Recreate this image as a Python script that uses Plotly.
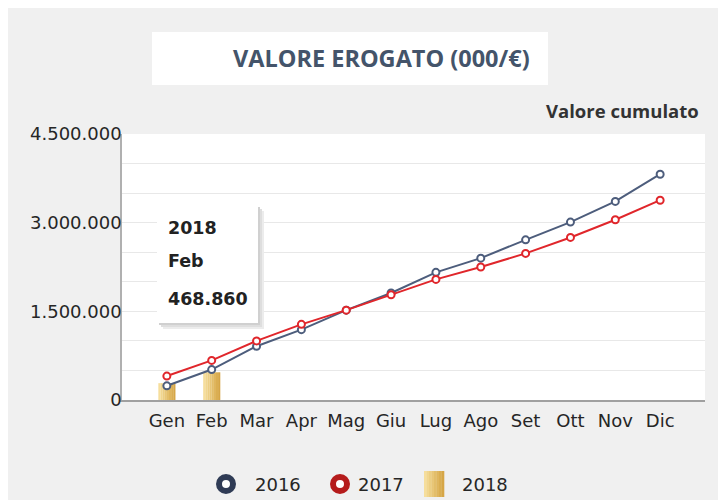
import plotly.graph_objects as go

months = ["Gen", "Feb", "Mar", "Apr", "Mag", "Giu", "Lug", "Ago", "Set", "Ott", "Nov", "Dic"]
v2016 = [240000, 515000, 910000, 1190000, 1520000, 1810000, 2160000, 2400000, 2710000, 3010000, 3360000, 3820000]
v2017 = [405000, 670000, 1000000, 1280000, 1520000, 1780000, 2040000, 2250000, 2480000, 2750000, 3050000, 3380000]
v2018 = [285000, 468860, None, None, None, None, None, None, None, None, None, None]
y_ticks = [0, 1500000, 3000000, 4500000]
y_tick_text = ["0", "1.500.000", "3.000.000", "4.500.000"]
legend_names = ["2016", "2017", "2018"]

FONT = "Open Sans"
FONT2 = "DejaVu Sans"
BLUE = "#4d5d7c"
RED = "#e0262b"
GOLD_L = (246, 222, 156)
GOLD_D = (214, 166, 70)

# page body has an 8px margin: figure is drawn at (8, 8)
OFF = 8
W, H = 726 - OFF, 500 - OFF
L, R, T, B = 122 - OFF, 21, 134 - OFF, 100
pw, ph = W - L - R, H - T - B


def px(x):  # screen x -> paper x
    return (x - 122) / pw


def py(y):  # screen y -> paper y
    return (400 - y) / ph


fig = go.Figure()

# 2018 bars drawn as vertical stripes to imitate the gold gradient
BW = 0.38
N = 8
for i in range(N):
    t = i / (N - 1)
    c = tuple(int(GOLD_L[k] + (GOLD_D[k] - GOLD_L[k]) * t) for k in range(3))
    fig.add_trace(go.Bar(
        x=list(range(12)), y=v2018, name="2018",
        width=BW / N + 0.002, offset=-BW / 2 + i * BW / N,
        marker=dict(color="rgb(%d,%d,%d)" % c, line=dict(width=0)),
        showlegend=False, hoverinfo="skip" if i else None,
    ))

fig.add_trace(go.Scatter(
    x=list(range(12)), y=v2016, name="2016", mode="lines+markers",
    line=dict(color=BLUE, width=2),
    marker=dict(symbol="circle", size=7, color="white", line=dict(color=BLUE, width=2)),
    showlegend=False,
))
fig.add_trace(go.Scatter(
    x=list(range(12)), y=v2017, name="2017", mode="lines+markers",
    line=dict(color=RED, width=2),
    marker=dict(symbol="circle", size=7, color="white", line=dict(color=RED, width=2)),
    showlegend=False,
))

# manual legend
for cx, col in [(226, "#2f3b55"), (340, "#b51c1c")]:
    fig.add_shape(type="circle", xref="paper", yref="paper",
                  x0=px(cx - 7), x1=px(cx + 7), y0=py(484 + 7), y1=py(484 - 7),
                  fillcolor="white", line=dict(color=col, width=6))
for i in range(N):
    t = i / (N - 1)
    c = tuple(int(GOLD_L[k] + (GOLD_D[k] - GOLD_L[k]) * t) for k in range(3))
    fig.add_shape(type="rect", xref="paper", yref="paper",
                  x0=px(424 + i * 20 / N), x1=px(424 + (i + 1) * 20 / N + 0.3),
                  y0=py(497), y1=py(471),
                  fillcolor="rgb(%d,%d,%d)" % c, line=dict(width=0))
for name, xx in zip(legend_names, [253, 356, 460]):
    fig.add_annotation(xref="paper", yref="paper", x=px(xx), y=py(484),
                       text=name, showarrow=False, xanchor="left", yanchor="middle",
                       font=dict(family=FONT2, size=18, color="#262626"))

# title box
fig.add_shape(type="rect", xref="paper", yref="paper",
              x0=px(152), x1=px(548), y0=py(85), y1=py(32),
              fillcolor="white", line=dict(width=0), layer="below")
fig.add_annotation(xref="paper", yref="paper", x=px(381), y=py(58),
                   text="<b>VALORE EROGATO (000/€)</b>", showarrow=False,
                   xanchor="center", yanchor="middle",
                   font=dict(family=FONT, size=23.5, color="#44546a"))
fig.add_annotation(xref="paper", yref="paper", x=px(701), y=py(110),
                   text="<b>Valore cumulato</b>", showarrow=False,
                   xanchor="right", yanchor="middle",
                   font=dict(family=FONT, size=18.5, color="#333333"))

# tooltip box with soft shadow
for off, col in [(6, "#ececec"), (4, "#dedede"), (2, "#d0d0d0")]:
    fig.add_shape(type="rect", xref="paper", yref="paper",
                  x0=px(157 + off), x1=px(258 + off), y0=py(323 + off), y1=py(205 + off),
                  fillcolor=col, line=dict(width=0))
fig.add_shape(type="rect", xref="paper", yref="paper",
              x0=px(157), x1=px(258), y0=py(323), y1=py(205),
              fillcolor="white", line=dict(width=0))
for txt, yy in [("2018", 228), ("Feb", 261), ("468.860", 299)]:
    fig.add_annotation(xref="paper", yref="paper", x=px(166), y=py(yy),
                       text="<b>" + txt + "</b>", showarrow=False,
                       xanchor="left", yanchor="middle",
                       font=dict(family=FONT2, size=17.5, color="#222222"))

fig.update_layout(
    width=W, height=H,
    margin=dict(l=L, r=R, t=T, b=B),
    paper_bgcolor="#f0f0f0",
    plot_bgcolor="white",
    font=dict(family=FONT2, color="#262626"),
    barmode="overlay",
    showlegend=False,
    xaxis=dict(
        tickmode="array", tickvals=list(range(12)), ticktext=months,
        range=[-1.0, 12.0], showgrid=False, zeroline=False,
        showline=True, linecolor="#a0a0a0", linewidth=2,
        ticks="", ticklabelstandoff=3,
        tickfont=dict(family=FONT2, size=18, color="#262626"),
    ),
    yaxis=dict(
        range=[0, 4500000], tickmode="array", tickvals=y_ticks, ticktext=y_tick_text,
        showgrid=False, zeroline=False,
        showline=True, linecolor="#b0b0b0", linewidth=1.5,
        ticks="", ticklabelstandoff=-5,
        tickfont=dict(family=FONT2, size=18, color="#262626"),
        minor=dict(dtick=500000, tick0=0, showgrid=True, gridcolor="#e8e8e8", gridwidth=1),
    ),
)

fig.write_html("out.html")
